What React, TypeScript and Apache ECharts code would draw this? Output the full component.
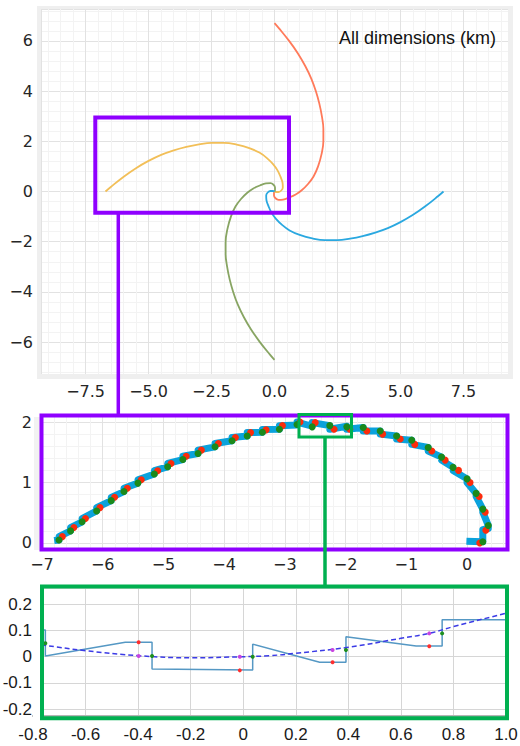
import React, { useEffect, useRef } from 'react';
import * as echarts from 'echarts';

// ---------- Top panel: four spiral arms (km) ----------
const yellowArm: number[][] = [
  [-6.71, 0.0], [-6.5, 0.18], [-6.0, 0.58], [-5.5, 0.93], [-5.0, 1.22], [-4.5, 1.46],
  [-4.0, 1.64], [-3.5, 1.78], [-3.0, 1.88], [-2.5, 1.94], [-2.0, 1.94], [-1.5, 1.87],
  [-1.0, 1.73], [-0.6, 1.55], [-0.3, 1.33], [-0.05, 1.08], [0.12, 0.84], [0.24, 0.58],
  [0.32, 0.34], [0.33, 0.16], [0.27, 0.04], [0.16, -0.02], [0.06, -0.02], [0.0, 0.0],
];
const greenArm: number[][] = [
  [0.0, -6.71], [-0.18, -6.5], [-0.58, -6.0], [-0.93, -5.5], [-1.22, -5.0], [-1.46, -4.5],
  [-1.64, -4.0], [-1.78, -3.5], [-1.88, -3.0], [-1.94, -2.5], [-1.94, -2.0], [-1.87, -1.5],
  [-1.73, -1.0], [-1.55, -0.6], [-1.33, -0.3], [-1.08, -0.05], [-0.84, 0.12], [-0.58, 0.24],
  [-0.34, 0.32], [-0.16, 0.33], [-0.04, 0.27], [0.02, 0.16], [0.02, 0.06], [0.0, 0.0],
];
const blueArm: number[][] = [
  [6.71, 0.0], [6.5, -0.18], [6.0, -0.58], [5.5, -0.93], [5.0, -1.22], [4.5, -1.46],
  [4.0, -1.64], [3.5, -1.78], [3.0, -1.88], [2.5, -1.94], [2.0, -1.94], [1.5, -1.87],
  [1.0, -1.73], [0.6, -1.55], [0.3, -1.33], [0.05, -1.08], [-0.12, -0.84], [-0.24, -0.58],
  [-0.32, -0.34], [-0.33, -0.16], [-0.27, -0.04], [-0.16, 0.02], [-0.06, 0.02], [0.0, 0.0],
];
const redArm: number[][] = [
  [0.0, 6.71], [0.18, 6.5], [0.58, 6.0], [0.93, 5.5], [1.22, 5.0], [1.46, 4.5],
  [1.64, 4.0], [1.78, 3.5], [1.88, 3.0], [1.94, 2.5], [1.94, 2.0], [1.87, 1.5],
  [1.73, 1.0], [1.55, 0.6], [1.33, 0.3], [1.08, 0.05], [0.84, -0.12], [0.58, -0.24],
  [0.34, -0.32], [0.16, -0.33], [0.04, -0.27], [-0.02, -0.16], [-0.02, -0.06], [0.0, 0.0],
];

// ---------- Middle panel: discretised yellow arm ----------
const stairPath: number[][] = [
  [-6.8, 0.04],
  [-6.72, 0.05], [-6.72, 0.105],
  [-6.53, 0.2], [-6.53, 0.255],
  [-6.34, 0.35], [-6.34, 0.405],
  [-6.1, 0.53], [-6.1, 0.585],
  [-5.86, 0.7], [-5.86, 0.755],
  [-5.65, 0.85], [-5.65, 0.905],
  [-5.42, 0.99], [-5.42, 1.045],
  [-5.15, 1.14], [-5.15, 1.195],
  [-4.93, 1.26], [-4.93, 1.315],
  [-4.68, 1.38], [-4.68, 1.435],
  [-4.43, 1.48], [-4.43, 1.535],
  [-4.15, 1.59], [-4.15, 1.645],
  [-3.87, 1.69], [-3.87, 1.745],
  [-3.62, 1.77], [-3.62, 1.825],
  [-3.37, 1.83], [-3.37, 1.875],
  [-3.09, 1.88], [-3.09, 1.94],
  [-2.8, 1.95], [-2.8, 2.0],
  [-2.55, 1.93], [-2.55, 1.99],
  [-2.26, 1.94], [-2.26, 1.88],
  [-1.98, 1.93], [-1.98, 1.88],
  [-1.71, 1.91], [-1.71, 1.85],
  [-1.43, 1.85], [-1.43, 1.8],
  [-1.16, 1.77], [-1.16, 1.72],
  [-0.91, 1.7], [-0.91, 1.63],
  [-0.64, 1.58], [-0.64, 1.52],
  [-0.42, 1.42], [-0.42, 1.37],
  [-0.23, 1.25], [-0.23, 1.2],
  [0.0, 1.06], [0.0, 1.0],
  [0.15, 0.82], [0.15, 0.77],
  [0.26, 0.56], [0.26, 0.51],
  [0.35, 0.29], [0.35, 0.24], [0.26, 0.22],
  [0.26, 0.02],
  [-0.01, 0.03],
];
const stairGreen: number[][] = [
  [-6.72, 0.05], [-6.53, 0.2], [-6.34, 0.35], [-6.1, 0.53], [-5.86, 0.7], [-5.65, 0.85],
  [-5.42, 0.99], [-5.15, 1.14], [-4.93, 1.26], [-4.68, 1.38], [-4.43, 1.48], [-4.15, 1.59],
  [-3.87, 1.69], [-3.62, 1.77], [-3.37, 1.83], [-3.09, 1.88], [-2.8, 1.96], [-2.55, 1.92],
  [-2.26, 1.94], [-1.98, 1.92], [-1.71, 1.91], [-1.43, 1.85], [-1.16, 1.77], [-0.91, 1.7],
  [-0.64, 1.58], [-0.42, 1.42], [-0.23, 1.25], [0.0, 1.06], [0.15, 0.82], [0.26, 0.56],
  [0.35, 0.29], [0.26, 0.02],
];
const stairRed: number[][] = [
  [-6.665, 0.105], [-6.475, 0.255], [-6.285, 0.405], [-6.045, 0.585], [-5.805, 0.755], [-5.595, 0.905],
  [-5.365, 1.045], [-5.095, 1.195], [-4.875, 1.315], [-4.625, 1.435], [-4.375, 1.535], [-4.095, 1.645],
  [-3.815, 1.745], [-3.565, 1.825], [-3.31, 1.87], [-3.04, 1.94], [-2.75, 2.0], [-2.5, 1.99],
  [-2.19, 1.88], [-1.93, 1.88], [-1.65, 1.85], [-1.39, 1.8], [-1.1, 1.72], [-0.86, 1.63],
  [-0.58, 1.52], [-0.36, 1.37], [-0.14, 1.2], [0.05, 1.0], [0.2, 0.77], [0.3, 0.51],
  [0.31, 0.21], [0.21, 0.0],
];

// ---------- Bottom panel: local detail ----------
const detailStep: number[][] = [
  [-0.8, 0.102], [-0.753, 0.102], [-0.753, 0.003], [-0.449, 0.055], [-0.347, 0.055],
  [-0.347, -0.047], [0.036, -0.051], [0.036, 0.048], [0.291, -0.021], [0.391, -0.021],
  [0.391, 0.076], [0.658, 0.041], [0.757, 0.041], [0.757, 0.141], [1.01, 0.141],
];
const detailCurve: number[][] = [
  [-0.8, 0.05], [-0.766, 0.045], [-0.6, 0.023], [-0.4, 0.004], [-0.2, -0.004], [0.0, 0.0],
  [0.1, 0.004], [0.2, 0.013], [0.4, 0.036], [0.6, 0.07], [0.708, 0.089], [0.8, 0.115],
  [1.0, 0.166], [1.01, 0.169],
];
const detailRed: number[][] = [[-0.398, 0.055], [-0.013, -0.052], [0.34, -0.021], [0.708, 0.04]];
const detailGreen: number[][] = [[-0.753, 0.051], [-0.347, 0.003], [0.036, 0.0], [0.391, 0.026], [0.757, 0.089]];
const detailMagenta: number[][] = [[-0.398, 0.003], [-0.013, 0.0], [0.34, 0.026], [0.708, 0.089]];

// ---------- tick steps ----------
const topXStep = 2.5;
const topYStep = 2;
const midStep = 1;
const botXStep = 0.2;
const botYStep = 0.1;

const minus = (s: string) => s.replace('-', '\u2212');
const isMult = (v: number, step: number) => Math.abs(v / step - Math.round(v / step)) < 1e-6;

const PURPLE = '#8f00ff';
const GREEN = '#00b050';

const baseAxis = (extra: any) => ({
  type: 'value',
  axisLine: { show: false, onZero: false },
  axisTick: { show: false },
  ...extra,
});

const dots = (xi: number, data: number[][], size: number, color: string) => ({
  type: 'scatter', xAxisIndex: xi, yAxisIndex: xi, data, symbol: 'circle', symbolSize: size, z: 5,
  itemStyle: { color, opacity: 1 },
});

export default function App() {
  const ref = useRef<HTMLDivElement>(null);
  useEffect(() => {
    document.body.style.margin = '0';
    const chart = echarts.init(ref.current as HTMLDivElement, null, { renderer: 'svg' });
    const topLabel = { fontFamily: 'DejaVu Sans', fontSize: 16, color: '#262626' };
    const botLabel = { fontFamily: 'Liberation Sans', fontSize: 17, color: '#1a1a1a' };
    const major = { show: true, lineStyle: { color: '#e2e2e2', width: 1 } };
    const minor = { show: true, lineStyle: { color: '#f3f3f3', width: 1 } };

    const option: any = {
      animation: false,
      backgroundColor: '#ffffff',
      grid: [
        { left: 41, top: 9, width: 467, height: 365, outerBoundsMode: 'none', containLabel: false },
        { left: 42, top: 415, width: 466, height: 135, outerBoundsMode: 'none', containLabel: false },
        { left: 33, top: 588, width: 473, height: 128, outerBoundsMode: 'none', containLabel: false },
      ],
      xAxis: [
        baseAxis({
          gridIndex: 0, min: -9.27, max: 9.27, minInterval: topXStep, maxInterval: topXStep,
          axisLabel: { ...topLabel, margin: 9, formatter: (v: number) => (isMult(v, topXStep) ? (Math.abs(v) < 1e-9 ? '0.0' : minus(v.toFixed(1))) : '') },
          splitLine: major, minorTick: { show: false, splitNumber: 5 }, minorSplitLine: minor,
        }),
        baseAxis({
          gridIndex: 1, min: -7, max: 0.675, minInterval: midStep, maxInterval: midStep,
          axisLabel: { ...topLabel, margin: 6, formatter: (v: number) => (isMult(v, midStep) ? minus(String(Math.round(v))) : '') },
          splitLine: major, minorTick: { show: false, splitNumber: 5 }, minorSplitLine: minor,
        }),
        baseAxis({
          gridIndex: 2, min: -0.8, max: 1.0, minInterval: botXStep, maxInterval: botXStep,
          axisLine: { show: true, onZero: false, lineStyle: { color: '#b5b5b5', width: 2 } },
          axisLabel: { ...botLabel, margin: 10, formatter: (v: number) => (isMult(v, botXStep) ? (Math.abs(v) < 1e-9 ? '0' : v.toFixed(1)) : '') },
          splitLine: { show: true, lineStyle: { color: '#d6d6d6', width: 1 } },
        }),
      ],
      yAxis: [
        baseAxis({
          gridIndex: 0, min: -7.27, max: 7.27, minInterval: topYStep, maxInterval: topYStep,
          axisLabel: { ...topLabel, margin: 8, formatter: (v: number) => (isMult(v, topYStep) ? minus(String(Math.round(v))) : '') },
          splitLine: major, minorTick: { show: false, splitNumber: 5 }, minorSplitLine: minor,
        }),
        baseAxis({
          gridIndex: 1, min: -0.116, max: 2.116, minInterval: midStep, maxInterval: midStep,
          axisLabel: { ...topLabel, margin: 10, formatter: (v: number) => (isMult(v, midStep) ? minus(String(Math.round(v))) : '') },
          splitLine: major, minorTick: { show: false, splitNumber: 5 }, minorSplitLine: minor,
        }),
        baseAxis({
          gridIndex: 2, min: -0.226, max: 0.262, minInterval: botYStep, maxInterval: botYStep,
          axisLabel: { ...botLabel, margin: 1, formatter: (v: number) => (isMult(v, botYStep) ? (Math.abs(v) < 1e-9 ? '0' : v.toFixed(1)) : '') },
          splitLine: { show: true, lineStyle: { color: '#d6d6d6', width: 1 } },
        }),
      ],
      series: [
        { type: 'line', xAxisIndex: 0, yAxisIndex: 0, data: redArm, smooth: 0.4, showSymbol: false, lineStyle: { color: '#ff7a5a', width: 1.8 } },
        { type: 'line', xAxisIndex: 0, yAxisIndex: 0, data: yellowArm, smooth: 0.4, showSymbol: false, lineStyle: { color: '#f2bf58', width: 1.8 } },
        { type: 'line', xAxisIndex: 0, yAxisIndex: 0, data: greenArm, smooth: 0.4, showSymbol: false, lineStyle: { color: '#88a563', width: 1.8 } },
        { type: 'line', xAxisIndex: 0, yAxisIndex: 0, data: blueArm, smooth: 0.4, showSymbol: false, lineStyle: { color: '#2aa8e0', width: 1.8 } },

        { type: 'line', xAxisIndex: 1, yAxisIndex: 1, data: stairPath, showSymbol: false, z: 2, lineStyle: { color: '#0aa2dc', width: 7, join: 'round' } },
        dots(1, stairRed, 7, '#fc2c0c'),
        { ...dots(1, stairGreen, 7, '#1b8a1b'), z: 6 },

        { type: 'line', xAxisIndex: 2, yAxisIndex: 2, data: detailStep, showSymbol: false, z: 2, lineStyle: { color: '#5598c4', width: 1.5 } },
        { type: 'line', xAxisIndex: 2, yAxisIndex: 2, data: detailCurve, smooth: 0.4, showSymbol: false, z: 3, lineStyle: { color: '#3b3be6', width: 1.5, type: [5, 3] } },
        dots(2, detailMagenta, 4, '#c844e0'),
        dots(2, detailRed, 4, '#ff2d2d'),
        dots(2, detailGreen, 4, '#1e8f1e'),
      ],
      graphic: [
        // light frame around the top panel
        { type: 'rect', z: 100, shape: { x: 37, y: 6, width: 4, height: 373 }, style: { fill: '#efefef' } },
        { type: 'rect', z: 100, shape: { x: 508, y: 6, width: 5, height: 373 }, style: { fill: '#efefef' } },
        { type: 'rect', z: 100, shape: { x: 37, y: 6, width: 476, height: 3 }, style: { fill: '#efefef' } },
        { type: 'rect', z: 100, shape: { x: 37, y: 374, width: 476, height: 5 }, style: { fill: '#efefef' } },
        // light band left of the middle panel
        { type: 'rect', z: 100, shape: { x: 34, y: 417, width: 6, height: 133 }, style: { fill: '#f2f2f2' } },
        // mask left of the bottom panel
        { type: 'rect', z: 100, shape: { x: 33, y: 586, width: 8, height: 133 }, style: { fill: '#ffffff' } },
        // purple zoom box and connector
        { type: 'rect', z: 110, shape: { x: 95.3, y: 117.5, width: 193.7, height: 95.2 }, style: { fill: 'none', stroke: PURPLE, lineWidth: 4 } },
        { type: 'line', z: 110, shape: { x1: 118.3, y1: 212.7, x2: 118.3, y2: 415.5 }, style: { stroke: PURPLE, lineWidth: 3.5 } },
        { type: 'rect', z: 110, shape: { x: 41.5, y: 415.5, width: 466, height: 134 }, style: { fill: 'none', stroke: PURPLE, lineWidth: 4 } },
        // green zoom box and connector
        { type: 'rect', z: 110, shape: { x: 299, y: 414.5, width: 52.5, height: 22.5 }, style: { fill: 'none', stroke: GREEN, lineWidth: 3 } },
        { type: 'line', z: 110, shape: { x1: 325, y1: 437, x2: 325, y2: 586.5 }, style: { stroke: GREEN, lineWidth: 3.5 } },
        { type: 'rect', z: 110, shape: { x: 42, y: 586.5, width: 465, height: 131.8 }, style: { fill: 'none', stroke: GREEN, lineWidth: 4 } },
        // annotation
        { type: 'text', z: 110, x: 339, y: 38, style: { text: 'All dimensions (km)', fontFamily: 'Liberation Sans', fontSize: 18, fill: '#111111', textVerticalAlign: 'middle', verticalAlign: 'middle' } },
      ],
    };
    chart.setOption(option);
    return () => chart.dispose();
  }, []);
  return <div ref={ref} style={{ width: 520, height: 746 }} />;
}
